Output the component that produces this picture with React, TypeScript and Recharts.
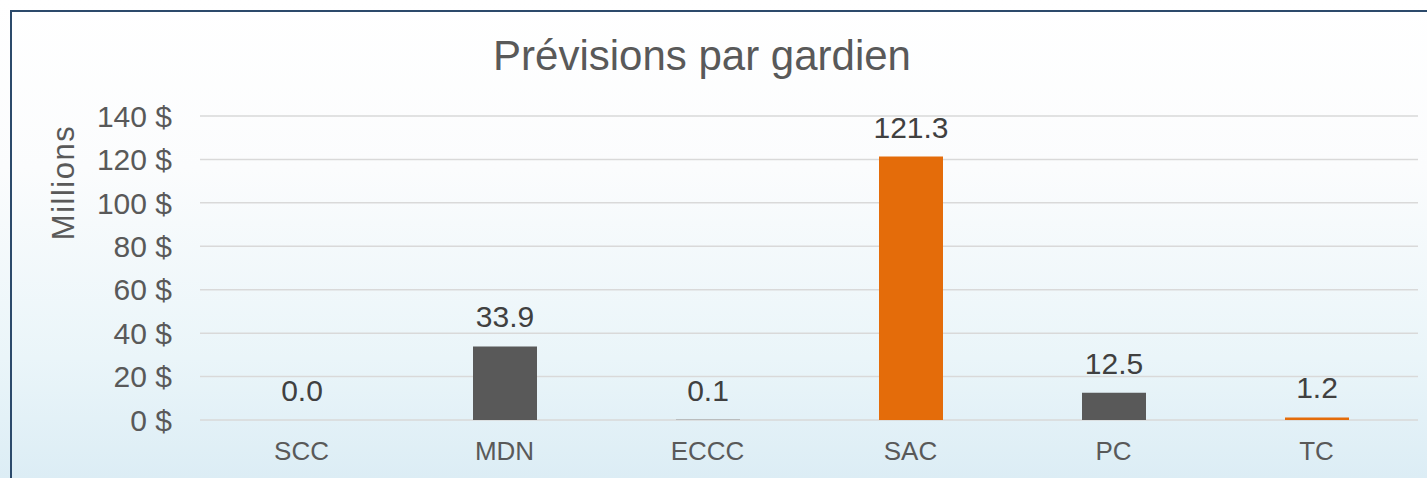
import React from 'react';
import { BarChart, Bar, XAxis, YAxis, CartesianGrid, Cell, LabelList } from 'recharts';

const categories = ['SCC', 'MDN', 'ECCC', 'SAC', 'PC', 'TC'];
const forecasts = [0.0, 33.9, 0.1, 121.3, 12.5, 1.2];
const barColors = ['#595959', '#595959', '#595959', '#E46C0A', '#595959', '#E46C0A'];
const yTicks = [0, 20, 40, 60, 80, 100, 120, 140];

const FONT = '"Liberation Sans", Arial, sans-serif';

const data = categories.map((name, i) => ({ name, value: forecasts[i], color: barColors[i] }));

export default function App() {
  return (
    <div
      style={{
        position: 'absolute',
        left: 0,
        top: 0,
        width: 1427,
        height: 478,
        overflow: 'hidden',
        fontFamily: FONT,
        background: 'linear-gradient(to bottom, #ffffff 0%, #fbfcfd 35%, #eaf5f9 75%, #dcedf5 100%)',
      }}
    >
      {/* frame */}
      <div
        style={{
          position: 'absolute',
          left: 10,
          top: 10,
          width: 1440,
          height: 500,
          borderTop: '2px solid #2c4a6b',
          borderLeft: '2px solid #2c4a6b',
        }}
      />
      <BarChart
        width={1427}
        height={478}
        data={data}
        margin={{ top: 116, right: 9, bottom: 0, left: 0 }}
        barCategoryGap={0}
      >
        <CartesianGrid horizontal vertical={false} stroke="#d9d9d9" strokeWidth={1.5} />
        <XAxis
          dataKey="name"
          height={58}
          axisLine={false}
          tickLine={false}
          tickSize={0}
          tickMargin={22}
          tick={{ fill: '#595959', fontSize: 26, fontFamily: FONT }}
        />
        <YAxis
          width={200}
          domain={[0, 140]}
          ticks={yTicks}
          axisLine={false}
          tickLine={false}
          tickSize={0}
          tickMargin={28}
          tickFormatter={(v: number) => `${v} $`}
          tick={{ fill: '#595959', fontSize: 30, fontFamily: FONT }}
        />
        <Bar
          dataKey="value"
          barSize={64}
          isAnimationActive={false}
          minPointSize={(v: number) => (v === 0 ? 0.1 : 0)}
        >
          {data.map((d) => (
            <Cell key={d.name} fill={d.value === 0 ? 'transparent' : d.color} />
          ))}
          <LabelList
            dataKey="value"
            position="top"
            offset={19}
            formatter={(v: number) => Number(v).toFixed(1)}
            fill="#404040"
            fontSize={30}
            fontFamily={FONT}
          />
        </Bar>
      </BarChart>
      <svg
        width={1427}
        height={478}
        style={{ position: 'absolute', left: 0, top: 0, pointerEvents: 'none' }}
      >
        <text x={702} y={70} textAnchor="middle" fontSize={42} fill="#595959" fontFamily={FONT}>
          Prévisions par gardien
        </text>
        <text
          x={74}
          y={182.5}
          textAnchor="middle"
          fontSize={31}
          letterSpacing={1.5}
          fill="#595959"
          fontFamily={FONT}
          transform="rotate(-90, 74, 182.5)"
        >
          Millions
        </text>
      </svg>
    </div>
  );
}
